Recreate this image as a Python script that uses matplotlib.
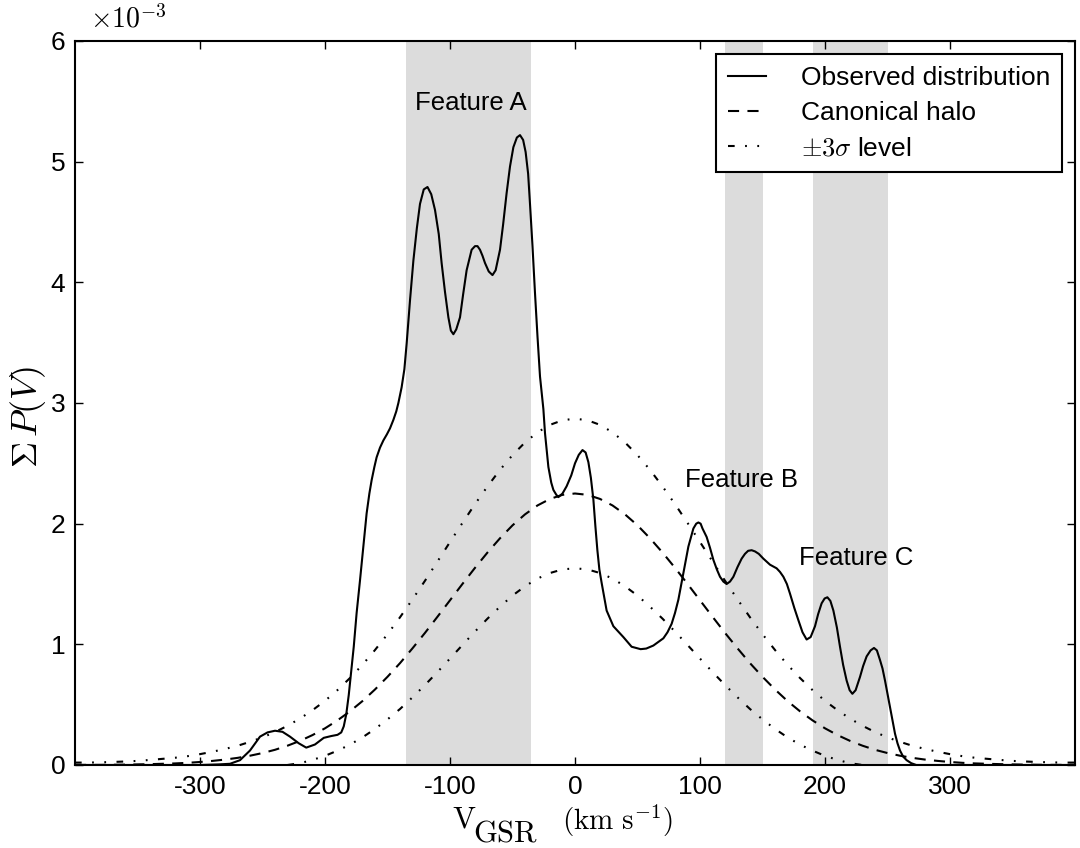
import matplotlib
matplotlib.use('Agg')
import matplotlib.pyplot as plt

plt.rcParams['font.family'] = ['Liberation Sans', 'DejaVu Sans']
plt.rcParams['mathtext.fontset'] = 'cm'
plt.rcParams['axes.unicode_minus'] = False
plt.rcParams['lines.scale_dashes'] = False

# ---------------- data (values in units of 1e-3) ----------------
v_model = list(range(-400, 401, 10))
halo = [0.001, 0.001, 0.001, 0.002, 0.003, 0.005, 0.007, 0.010, 0.013, 0.018,
        0.025, 0.034, 0.045, 0.059, 0.077, 0.099, 0.126, 0.160, 0.200, 0.248,
        0.304, 0.370, 0.445, 0.530, 0.626, 0.731, 0.844, 0.967, 1.095, 1.229,
        1.365, 1.501, 1.634, 1.761, 1.879, 1.986, 2.077, 2.151, 2.205, 2.239,
        2.250,
        2.239, 2.205, 2.151, 2.077, 1.986, 1.879, 1.761, 1.634, 1.501, 1.365,
        1.229, 1.095, 0.967, 0.844, 0.731, 0.626, 0.530, 0.445, 0.370, 0.304,
        0.248, 0.200, 0.160, 0.126, 0.099, 0.077, 0.059, 0.045, 0.034, 0.025,
        0.018, 0.013, 0.010, 0.007, 0.005, 0.003, 0.002, 0.001, 0.001, 0.001]
upper = [0.020, 0.020, 0.022, 0.025, 0.029, 0.034, 0.042, 0.051, 0.060, 0.073,
         0.090, 0.110, 0.133, 0.159, 0.192, 0.229, 0.273, 0.325, 0.385, 0.454,
         0.532, 0.621, 0.721, 0.831, 0.953, 1.084, 1.224, 1.373, 1.527, 1.687,
         1.848, 2.007, 2.162, 2.309, 2.446, 2.568, 2.673, 2.757, 2.819, 2.857,
         2.870,
         2.857, 2.819, 2.757, 2.673, 2.568, 2.446, 2.309, 2.162, 2.007, 1.848,
         1.687, 1.527, 1.373, 1.224, 1.084, 0.953, 0.831, 0.721, 0.621, 0.532,
         0.454, 0.385, 0.325, 0.273, 0.229, 0.192, 0.159, 0.133, 0.110, 0.090,
         0.073, 0.060, 0.051, 0.042, 0.034, 0.029, 0.025, 0.022, 0.020, 0.020]
v_lower = list(range(-230, 231, 10))
lower = [0.000, 0.015, 0.042, 0.076, 0.119, 0.169, 0.229, 0.299, 0.378, 0.464,
         0.561, 0.663, 0.771, 0.882, 0.995, 1.106, 1.213, 1.312, 1.404, 1.481,
         1.545, 1.591, 1.621, 1.630,
         1.621, 1.591, 1.545, 1.481, 1.404, 1.312, 1.213, 1.106, 0.995, 0.882,
         0.771, 0.663, 0.561, 0.464, 0.378, 0.299, 0.229, 0.169, 0.119, 0.076,
         0.042, 0.015, 0.000]

v_obs = [-400, -350, -300, -285, -276, -268, -260, -252, -246, -240, -234, -228,
         -221, -215, -208, -201, -195, -190, -187, -185, -183, -181, -179, -177,
         -174.7, -172, -169.3, -166.7, -164.5, -162.7, -160.5, -158.7, -156, -153.3,
         -150.5, -148, -145.3, -143, -141.3, -138.7, -136.5, -134.7, -132, -129.3,
         -126.5, -124, -121, -118, -115, -112, -109, -106.7, -104, -101.3, -99.3,
         -97.3, -95, -92, -89.5, -86.7, -82.7, -80, -78, -76, -74, -72, -69, -66,
         -63.5, -60, -57.5, -54.7, -52, -49.3, -46.5, -44, -41.5, -39.5, -37.5,
         -36, -34, -32, -30, -28, -25.3, -24, -21.3, -19, -17.3, -15, -13.3, -10,
         -6.7, -3, 0, 3, 6, 8.5, 10.7, 12.7, 14.7, 16.3, 17.9, 19.5, 21.3, 25.3,
         30.7, 38.7, 45.3, 52.5, 57, 62.7, 70.7, 74, 77.3, 80, 82.7, 86.7, 90.7,
         94.7, 97, 98.7, 100.5, 102, 105.3, 108, 110.7, 113.5, 116, 118.7, 121.3,
         124, 126.7, 130, 133.3, 136, 138.5, 141.3, 144, 147, 150.7, 156, 161.3,
         164, 166.7, 169.5, 172, 175.5, 178.7, 182, 185.3, 188.5, 192, 194.5,
         197.3, 199.7, 201.9, 204.3, 206.7, 209.5, 212, 214.5, 217.3, 219.7, 221.9,
         224.5, 228, 230.5, 233.3, 236.5, 239.2, 241.5, 244, 246, 248, 250, 252,
         254, 256, 258, 260, 262.5, 265.3, 269, 273, 300, 400]
p_obs = [0.0, 0.0, 0.0, 0.005, 0.01, 0.04, 0.12, 0.235, 0.27, 0.284, 0.275, 0.235,
         0.18, 0.144, 0.17, 0.225, 0.24, 0.25, 0.27, 0.32, 0.42, 0.58, 0.78, 0.98,
         1.26, 1.53, 1.81, 2.085, 2.25, 2.36, 2.47, 2.55, 2.63, 2.69,
         2.74, 2.79, 2.86, 2.93, 3.0, 3.13, 3.28, 3.49, 3.85, 4.18,
         4.45, 4.65, 4.77, 4.79, 4.73, 4.60, 4.40, 4.16, 3.92, 3.71, 3.60,
         3.57, 3.61, 3.71, 3.90, 4.10, 4.27, 4.30, 4.30, 4.27, 4.22, 4.16, 4.09, 4.06,
         4.10, 4.27, 4.48, 4.74, 4.96, 5.12, 5.20, 5.22, 5.18, 5.08, 4.90,
         4.65, 4.30, 3.91, 3.55, 3.22, 2.95, 2.75, 2.47, 2.34, 2.28, 2.24, 2.22, 2.25,
         2.31, 2.40, 2.50, 2.57, 2.61, 2.59, 2.51, 2.38, 2.20, 1.98, 1.78, 1.62, 1.51, 1.28,
         1.15, 1.06, 0.98, 0.96, 0.965, 0.99, 1.05, 1.10, 1.17, 1.26, 1.37, 1.59, 1.81,
         1.96, 2.00, 2.01, 2.00, 1.96, 1.89, 1.80, 1.70, 1.62, 1.56, 1.52, 1.50,
         1.52, 1.56, 1.64, 1.71, 1.75, 1.775, 1.78, 1.77, 1.75, 1.71, 1.66, 1.63,
         1.60, 1.56, 1.50, 1.42, 1.30, 1.20, 1.10, 1.04, 1.06, 1.15, 1.25,
         1.34, 1.38, 1.39, 1.36, 1.28, 1.14, 0.98, 0.83, 0.70, 0.62, 0.59,
         0.62, 0.73, 0.82, 0.90, 0.95, 0.97, 0.95, 0.87, 0.80, 0.70, 0.59, 0.48,
         0.37, 0.26, 0.18, 0.12, 0.07, 0.04, 0.015, 0.0, 0.0, 0.0]

feature_spans = [(-135, -35), (120, 150), (190, 250)]
feature_labels = ['Feature A', 'Feature B', 'Feature C']
feature_label_pos = [(-83, 5.49), (133, 2.36), (225, 1.715)]

x_ticks = [-300, -200, -100, 0, 100, 200, 300]
y_ticks = [0, 1, 2, 3, 4, 5, 6]

# ---------------- figure ----------------
fig = plt.figure(figsize=(10.8, 8.48), dpi=100)
ax = fig.add_axes([75/1080, 83/848, 1000/1080, 724/848])

for (a, b) in feature_spans:
    ax.axvspan(a, b, color='#dcdcdc', lw=0, zorder=0)

ls_dd = (0, (4.8, 7.5, 1.3, 7.5, 1.3, 7.5))
ax.plot(v_obs, p_obs, color='black', lw=1.5, label='Observed distribution', zorder=3)
ax.plot(v_model, halo, color='black', lw=1.5, ls=(0, (8.0, 6.0)), label='Canonical halo', zorder=2)
ax.plot(v_model, upper, color='black', lw=1.5, ls=ls_dd, label=r'$\pm3\sigma$ level', zorder=2)
ax.plot(v_lower, lower, color='black', lw=1.5, ls=ls_dd, zorder=2)

for lab, (x, y) in zip(feature_labels, feature_label_pos):
    ax.text(x, y, lab, ha='center', va='center', fontsize=18.5)

ax.set_xlim(-400, 400)
ax.set_ylim(0, 6)
ax.set_xticks(x_ticks)
ax.set_xticklabels([str(t) for t in x_ticks])
ax.set_yticks(y_ticks)
ax.set_yticklabels([str(t) for t in y_ticks])
ax.tick_params(direction='in', length=5.5, width=1, labelsize=19, pad=7,
               top=True, right=True)
for s in ax.spines.values():
    s.set_linewidth(1.5)

leg = ax.legend(loc='upper right', fontsize=19, frameon=True, fancybox=False,
                framealpha=1, edgecolor='black', handlelength=1.45,
                handletextpad=1.3, labelspacing=0.42, borderpad=0.45,
                borderaxespad=0.5)
leg.get_frame().set_linewidth(1.5)

# offset text
fig.text(90/1080, 1 - 28/848, r'$\times10^{-3}$', fontsize=20, ha='left', va='baseline')

# x label pieces
fig.text(452/1080, 1 - 828/848, r'$\mathrm{V}$', fontsize=22, ha='left', va='baseline')
fig.text(473/1080, 1 - 842/848, r'$\mathrm{GSR}$', fontsize=22, ha='left', va='baseline')
fig.text(562/1080, 1 - 830/848, r'$(\mathrm{km\ s^{-1}})$', fontsize=21, ha='left', va='baseline')

# y label
fig.text(28/1080, 1 - 417/848, r'$\Sigma\, P(V)$', fontsize=26, rotation=90,
         ha='center', va='center')

fig.savefig('out.png', dpi=100)
